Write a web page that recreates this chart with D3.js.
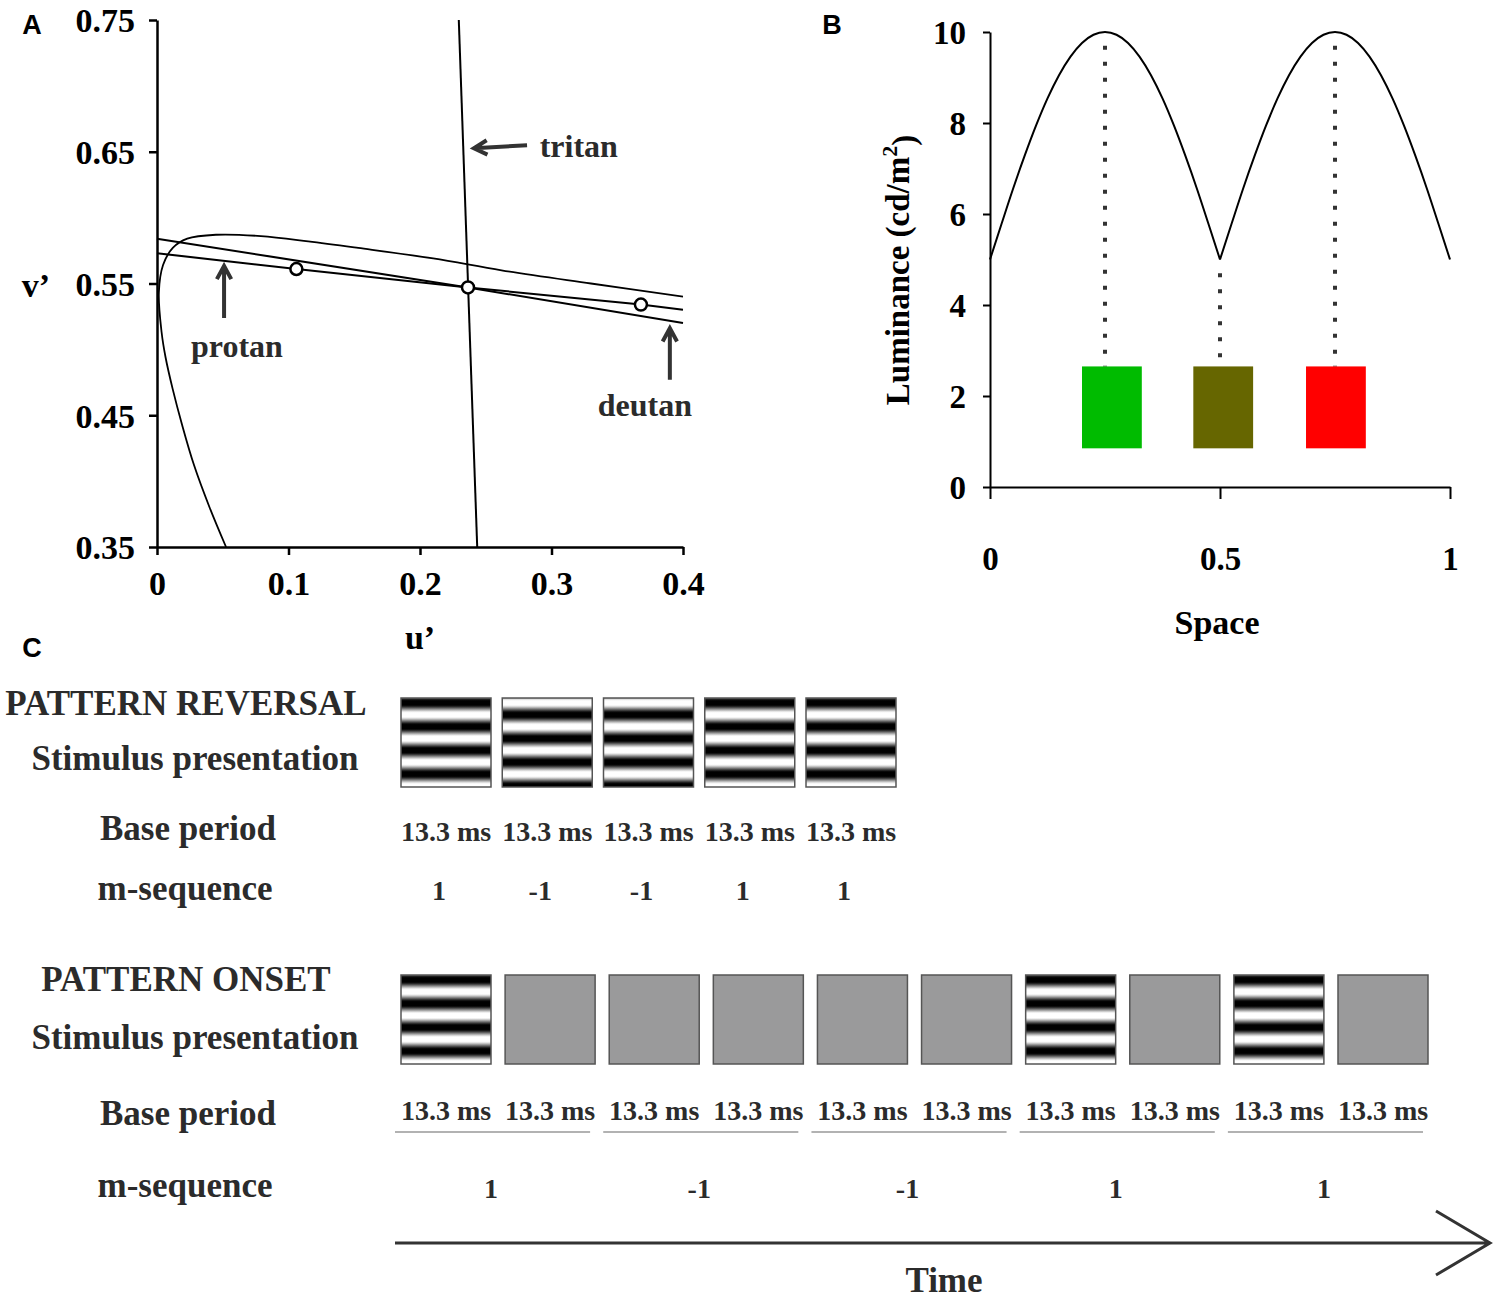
<!DOCTYPE html>
<html>
<head>
<meta charset="utf-8">
<script src="https://cdn.jsdelivr.net/npm/d3@7"></script>
<style>
  body { margin: 0; background: #fff; }
  svg text { font-family: "Liberation Serif", "Times New Roman", serif; font-weight: bold; }
</style>
</head>
<body>
<script>
// ---- Panel A: u'v' chromaticity diagram ----
const uTicks = [0, 0.1, 0.2, 0.3, 0.4];
const uTickLabels = ['0', '0.1', '0.2', '0.3', '0.4'];
const vTicks = [0.35, 0.45, 0.55, 0.65, 0.75];
const vTickLabels = ['0.35', '0.45', '0.55', '0.65', '0.75'];

// spectrum locus
const locusU = [0.0525, 0.040, 0.0282, 0.019, 0.0119, 0.0065, 0.0035, 0.0014, 0.0046, 0.012, 0.023, 0.045, 0.079, 0.115, 0.153, 0.21, 0.262, 0.33, 0.40];
const locusV = [0.350, 0.380, 0.412, 0.443, 0.470, 0.494, 0.513, 0.543, 0.564, 0.577, 0.584, 0.587, 0.586, 0.582, 0.577, 0.569, 0.560, 0.550, 0.540];

// confusion lines
const protanU = [0, 0.106, 0.2365, 0.368, 0.4];
const protanV = [0.573, 0.561, 0.547, 0.534, 0.530];
const deutanU = [0, 0.2365, 0.4];
const deutanV = [0.584, 0.547, 0.520];
const tritanU = [0.2295, 0.2435];
const tritanV = [0.75, 0.35];

// stimulus chromaticities (open circles)
const stimU = [0.106, 0.2365, 0.368];
const stimV = [0.561, 0.547, 0.534];

// ---- Panel B: luminance profile ----
const spaceTicks = [0, 0.5, 1];
const spaceTickLabels = ['0', '0.5', '1'];
const lumTicks = [0, 2, 4, 6, 8, 10];
const spaceX = [0, 0.025, 0.05, 0.075, 0.1, 0.125, 0.15, 0.175, 0.2, 0.225, 0.25,
  0.275, 0.3, 0.325, 0.35, 0.375, 0.4, 0.425, 0.45, 0.475, 0.5,
  0.525, 0.55, 0.575, 0.6, 0.625, 0.65, 0.675, 0.7, 0.725, 0.75,
  0.775, 0.8, 0.825, 0.85, 0.875, 0.9, 0.925, 0.95, 0.975, 1];
const luminance = [5.0, 5.78, 6.55, 7.27, 7.94, 8.54, 9.05, 9.46, 9.76, 9.94, 10.0,
  9.94, 9.76, 9.46, 9.05, 8.54, 7.94, 7.27, 6.55, 5.78, 5.0,
  5.78, 6.55, 7.27, 7.94, 8.54, 9.05, 9.46, 9.76, 9.94, 10.0,
  9.94, 9.76, 9.46, 9.05, 8.54, 7.94, 7.27, 6.55, 5.78, 5.0];
const dropX = [0.25, 0.5, 0.75];
const patchX = [0.265, 0.507, 0.752];
const patchLum = [0.85, 2.65];
const patchColors = ['#00bb00', '#666600', '#ff0000'];

// ---- Panel C: stimulation sequences ----
const mSequence = [1, -1, -1, 1, 1];
const basePeriod = '13.3 ms';
const reversalRows = ['PATTERN REVERSAL', 'Stimulus presentation', 'Base period', 'm-sequence'];
const onsetRows = ['PATTERN ONSET', 'Stimulus presentation', 'Base period', 'm-sequence'];

const svg = d3.select('body').append('svg')
  .attr('width', 1500)
  .attr('height', 1301);

svg.append('rect').attr('width', 1500).attr('height', 1301).attr('fill', '#fff');

const ink = '#2b2b2b';

function styleAxis(g, width, size) {
  g.select('.domain').attr('stroke', '#000').attr('stroke-width', width);
  g.selectAll('.tick line').attr('stroke', '#000').attr('stroke-width', width);
  g.selectAll('.tick text')
    .attr('fill', '#000')
    .style('font-size', size + 'px')
    .style('font-family', '"Liberation Serif", serif')
    .style('font-weight', 'bold');
}

function arrow(x1, y1, x2, y2) {
  const a = Math.atan2(y2 - y1, x2 - x1);
  const L = 15, w = 0.5;
  const p1 = [x2 - L * Math.cos(a - w), y2 - L * Math.sin(a - w)];
  const p2 = [x2 - L * Math.cos(a + w), y2 - L * Math.sin(a + w)];
  svg.append('path')
    .attr('d', `M${x1},${y1}L${x2},${y2}M${p1}L${x2},${y2}L${p2}`)
    .attr('fill', 'none')
    .attr('stroke', '#333')
    .attr('stroke-width', 4)
    .attr('stroke-linecap', 'butt')
    .attr('stroke-linejoin', 'miter');
}

// panel letters
[['A', 32, 25], ['B', 832, 25], ['C', 32, 648]].forEach(([t, x, y]) => {
  svg.append('text').attr('x', x).attr('y', y).attr('dy', '0.35em')
    .attr('text-anchor', 'middle')
    .style('font-family', '"Liberation Sans", Arial, sans-serif')
    .style('font-size', '27px')
    .text(t);
});

// =================== Panel A ===================
const xA = d3.scaleLinear().domain([0, 0.4]).range([157, 683]);
const yA = d3.scaleLinear().domain([0.35, 0.75]).range([547, 20]);

const gxA = svg.append('g').attr('transform', 'translate(0,547)')
  .call(d3.axisBottom(xA).tickValues(uTicks).tickSize(8).tickSizeOuter(0)
    .tickFormat((d, i) => uTickLabels[i]));
styleAxis(gxA, 2.5, 34);
gxA.selectAll('.tick text').attr('y', 36).attr('dy', '0.35em');

const gyA = svg.append('g').attr('transform', 'translate(157,0)')
  .call(d3.axisLeft(yA).tickValues(vTicks).tickSize(8).tickSizeOuter(0)
    .tickFormat((d, i) => vTickLabels[i]));
styleAxis(gyA, 2.5, 34);
gyA.selectAll('.tick text').attr('x', -22).attr('dy', '0.35em');

svg.append('text').attr('x', 420).attr('y', 637).attr('dy', '0.35em')
  .attr('text-anchor', 'middle').style('font-size', '34px').text('u\u2019');
svg.append('text').attr('x', 36).attr('y', 285).attr('dy', '0.35em')
  .attr('text-anchor', 'middle').style('font-size', '34px').text('v\u2019');

const lineA = d3.line().x(d => xA(d[0])).y(d => yA(d[1]));

svg.append('path')
  .attr('d', lineA.curve(d3.curveCatmullRom)(d3.zip(locusU, locusV)))
  .attr('fill', 'none').attr('stroke', '#000').attr('stroke-width', 1.8);

lineA.curve(d3.curveLinear);
[[protanU, protanV], [deutanU, deutanV], [tritanU, tritanV]].forEach(([u, v]) => {
  svg.append('path')
    .attr('d', lineA(d3.zip(u, v)))
    .attr('fill', 'none').attr('stroke', '#000').attr('stroke-width', 2);
});

svg.selectAll('circle.stim')
  .data(d3.zip(stimU, stimV))
  .join('circle')
  .attr('class', 'stim')
  .attr('cx', d => xA(d[0]))
  .attr('cy', d => yA(d[1]))
  .attr('r', 6)
  .attr('fill', '#fff')
  .attr('stroke', '#000')
  .attr('stroke-width', 2.5);

// annotations
arrow(xA(0.2814), yA(0.655), xA(0.241), yA(0.6527));
svg.append('text').attr('x', xA(0.291)).attr('y', yA(0.6545)).attr('dy', '0.35em')
  .attr('fill', ink).style('font-size', '32px').text('tritan');

arrow(xA(0.051), yA(0.5238), xA(0.051), yA(0.5633));
svg.append('text').attr('x', xA(0.0608)).attr('y', yA(0.503)).attr('dy', '0.35em')
  .attr('text-anchor', 'middle').attr('fill', ink).style('font-size', '32px').text('protan');

arrow(xA(0.390), yA(0.477), xA(0.390), yA(0.516));
svg.append('text').attr('x', xA(0.371)).attr('y', yA(0.458)).attr('dy', '0.35em')
  .attr('text-anchor', 'middle').attr('fill', ink).style('font-size', '32px').text('deutan');

// =================== Panel B ===================
const xB = d3.scaleLinear().domain([0, 1]).range([990, 1450]);
const yB = d3.scaleLinear().domain([0, 10]).range([487, 32]);

const gxB = svg.append('g').attr('transform', 'translate(0,487)')
  .call(d3.axisBottom(xB).tickValues(spaceTicks).tickSize(12).tickSizeOuter(0)
    .tickFormat((d, i) => spaceTickLabels[i]));
styleAxis(gxB, 2, 33);
gxB.selectAll('.tick text').attr('y', 71).attr('dy', '0.35em');

const gyB = svg.append('g').attr('transform', 'translate(990,0)')
  .call(d3.axisLeft(yB).tickValues(lumTicks).tickSize(7).tickSizeOuter(0));
styleAxis(gyB, 2, 33);
gyB.selectAll('.tick text').attr('x', -24).attr('dy', '0.35em');

svg.append('text').attr('x', 1217).attr('y', 622).attr('dy', '0.35em')
  .attr('text-anchor', 'middle').style('font-size', '34px').text('Space');

const lumLabel = svg.append('text')
  .attr('transform', 'translate(909,270) rotate(-90)')
  .attr('text-anchor', 'middle')
  .style('font-size', '33px');
lumLabel.append('tspan').text('Luminance (cd/m');
lumLabel.append('tspan').attr('dy', '-0.55em').style('font-size', '22px').text('2');
lumLabel.append('tspan').attr('dy', '0.55em').text(')');

const lumPts = d3.zip(spaceX, luminance);
const lineB = d3.line().x(d => xB(d[0])).y(d => yB(d[1])).curve(d3.curveMonotoneX);
// the cusp at the trough is drawn by splitting the profile there
[lumPts.filter(d => d[0] <= 0.5), lumPts.filter(d => d[0] >= 0.5)].forEach(seg => {
  svg.append('path').attr('d', lineB(seg))
    .attr('fill', 'none').attr('stroke', '#000').attr('stroke-width', 2);
});

svg.selectAll('line.drop')
  .data(dropX)
  .join('line')
  .attr('class', 'drop')
  .attr('x1', d => xB(d)).attr('x2', d => xB(d))
  .attr('y1', d => yB(luminance[spaceX.indexOf(d)] - 0.3))
  .attr('y2', yB(patchLum[1]))
  .attr('stroke', '#333')
  .attr('stroke-width', 4)
  .attr('stroke-dasharray', '4,12');

svg.selectAll('rect.patch')
  .data(patchX)
  .join('rect')
  .attr('class', 'patch')
  .attr('x', d => xB(d - 0.065))
  .attr('width', xB(0.13) - xB(0))
  .attr('y', yB(patchLum[1]))
  .attr('height', yB(patchLum[0]) - yB(patchLum[1]))
  .attr('fill', (d, i) => patchColors[i]);

// =================== Panel C ===================
const defs = svg.append('defs');
[['gratA', -1], ['gratB', 1]].forEach(([id, sign]) => {
  const g = defs.append('linearGradient').attr('id', id)
    .attr('x1', 0).attr('y1', 0).attr('x2', 0).attr('y2', 1);
  for (let k = 0; k <= 90; k++) {
    const t = k / 90;
    const c = Math.cos(2 * Math.PI * 3.75 * (t - 0.055));
    const l = Math.max(0, Math.min(1, 0.5 + sign * 0.62 * c)) * 255;
    g.append('stop').attr('offset', t).attr('stop-color', d3.rgb(l, l, l).formatHex());
  }
});

const frameW = 90, frameH = 89;

function rowLabels(rows, ys) {
  rows.forEach((t, i) => {
    svg.append('text').attr('x', [186, 195, 188, 185][i])
      .attr('y', ys[i]).attr('dy', '0.35em')
      .attr('text-anchor', 'middle').attr('fill', ink)
      .style('font-size', '35px').text(t);
  });
}

// pattern reversal
rowLabels(reversalRows, [703, 758, 828, 888]);
const revX = d3.scaleLinear().domain([0, 4]).range([401, 806]);
const revFrames = mSequence.map(m => (m === 1 ? 'gratA' : 'gratB'));

svg.selectAll('rect.rev')
  .data(revFrames)
  .join('rect')
  .attr('class', 'rev')
  .attr('x', (d, i) => revX(i))
  .attr('y', 698)
  .attr('width', frameW).attr('height', frameH)
  .attr('fill', d => `url(#${d})`)
  .attr('stroke', '#555').attr('stroke-width', 1.5);

svg.selectAll('text.revBase')
  .data(revFrames)
  .join('text')
  .attr('class', 'revBase')
  .attr('x', (d, i) => revX(i) + frameW / 2)
  .attr('y', 831).attr('dy', '0.35em')
  .attr('text-anchor', 'middle').attr('fill', ink)
  .style('font-size', '28px')
  .text(basePeriod);

svg.selectAll('text.revSeq')
  .data(mSequence)
  .join('text')
  .attr('class', 'revSeq')
  .attr('x', (d, i) => revX(i) + frameW / 2 - 7)
  .attr('y', 890).attr('dy', '0.35em')
  .attr('text-anchor', 'middle').attr('fill', ink)
  .style('font-size', '28px')
  .text(d => d);

// pattern onset
rowLabels(onsetRows, [979, 1037, 1113, 1185]);
const onX = d3.scaleLinear().domain([0, 9]).range([401, 1338]);
const onFrames = mSequence.flatMap(m => [m === 1 ? 'gratA' : 'gray', 'gray']);

svg.selectAll('rect.on')
  .data(onFrames)
  .join('rect')
  .attr('class', 'on')
  .attr('x', (d, i) => onX(i))
  .attr('y', 975)
  .attr('width', frameW).attr('height', frameH)
  .attr('fill', d => (d === 'gray' ? '#9a9a9b' : `url(#${d})`))
  .attr('stroke', '#555').attr('stroke-width', 1.5);

svg.selectAll('text.onBase')
  .data(onFrames)
  .join('text')
  .attr('class', 'onBase')
  .attr('x', (d, i) => onX(i) + frameW / 2)
  .attr('y', 1110).attr('dy', '0.35em')
  .attr('text-anchor', 'middle').attr('fill', ink)
  .style('font-size', '28px')
  .text(basePeriod);

svg.selectAll('line.pair')
  .data(mSequence)
  .join('line')
  .attr('class', 'pair')
  .attr('x1', (d, i) => onX(2 * i) - 6)
  .attr('x2', (d, i) => onX(2 * i + 1) + frameW - 5)
  .attr('y1', 1132).attr('y2', 1132)
  .attr('stroke', '#999').attr('stroke-width', 1.3);

svg.selectAll('text.onSeq')
  .data(mSequence)
  .join('text')
  .attr('class', 'onSeq')
  .attr('x', (d, i) => (onX(2 * i) + onX(2 * i + 1) + frameW) / 2 - 7)
  .attr('y', 1188).attr('dy', '0.35em')
  .attr('text-anchor', 'middle').attr('fill', ink)
  .style('font-size', '28px')
  .text(d => d);

// time arrow
svg.append('path')
  .attr('d', 'M395,1243H1490M1436,1211L1490,1243L1436,1275')
  .attr('fill', 'none').attr('stroke', '#333').attr('stroke-width', 3);
svg.append('text').attr('x', 944).attr('y', 1280).attr('dy', '0.35em')
  .attr('text-anchor', 'middle').attr('fill', ink)
  .style('font-size', '35px').text('Time');
</script>
</body>
</html>
